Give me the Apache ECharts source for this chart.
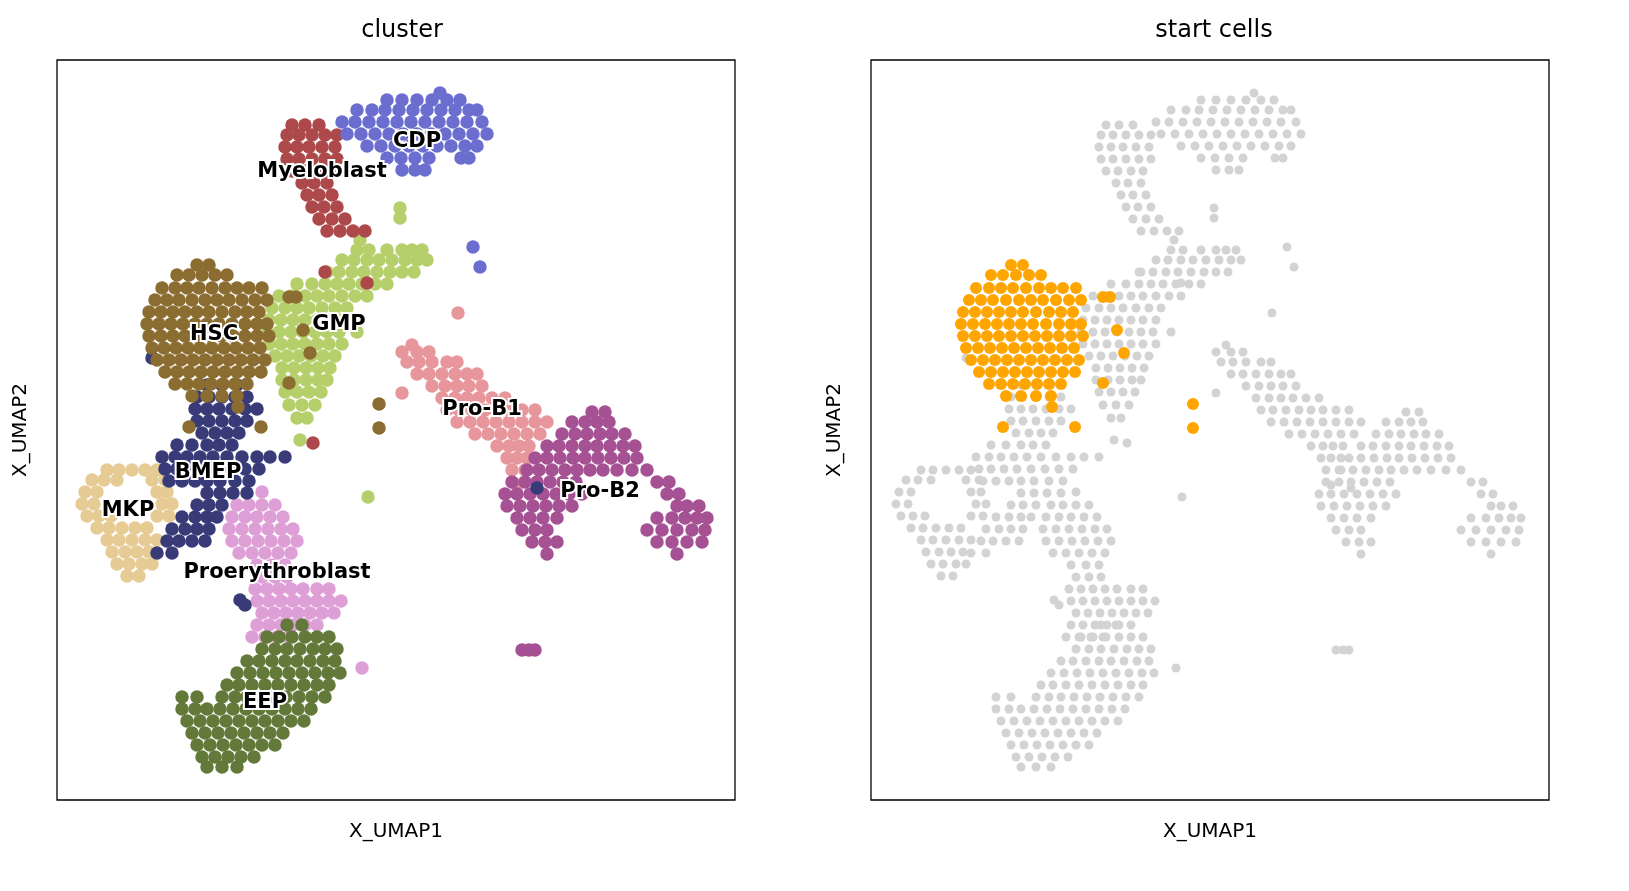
<!DOCTYPE html>
<html><head><meta charset="utf-8">
<script src="https://cdn.jsdelivr.net/npm/echarts@6/dist/echarts.min.js"></script>
<style>html,body{margin:0;padding:0;background:#fff}#c{width:1629px;height:891px}</style>
</head><body><div id="c"></div>
<script>
const HSC=[[205,[140,152]],[215,[120,132,145,158,170]],[228,[105,118,130,142,155,168,180,192,205]],[240,[98,110,122,135,148,160,172,185,198,210]],[252,[92,104,116,128,140,152,165,178,190,202]],[264,[90,102,114,126,138,150,162,175,188,200,210]],[276,[92,104,116,128,140,152,164,176,188,200,212]],[288,[95,107,119,131,143,155,167,179,191,203]],[300,[100,112,124,136,148,160,172,184,196,208]],[312,[108,120,132,144,156,168,180,192,204]],[324,[118,130,142,154,166,178,190]],[336,[135,150,165,180]],[344,[322]],[368,[322]]];
const HSC_extra=[[237,[232,239]],[270,[246]],[293,[253]],[323,[232]],[367,[132,204]],[347,[181]]];
const GMP=[[148,[343]],[158,[343]],[180,[303]],[190,[300,312,330,345,355,365]],[200,[285,297,310,322,335,348,360,370]],[212,[270,282,295,307,320,333,345,357]],[224,[240,255,268,280,292,305,318,330]],[236,[222,235,248,260,272,285,298,310]],[248,[215,228,240,252,265,278,290]],[260,[212,224,236,248,260,272,285]],[272,[210,222,234,246,258,270,282,300]],[284,[212,224,236,248,260,272,285]],[296,[218,230,242,254,266,278]],[308,[225,237,249,261,273]],[320,[225,237,249,261,270]],[332,[228,240,252,264]],[345,[232,245,258]],[358,[240,250]],[380,[243]],[437,[311]]];
const MYELO=[[65,[235,248,262]],[75,[230,242,255,268,280]],[87,[228,240,252,265,278]],[99,[230,242,255,268,280]],[111,[235,247,260,272]],[123,[245,257,270]],[135,[250,262,275]],[147,[255,267,280]],[159,[262,275,288]],[171,[270,283,296,308]],[212,[268]],[223,[310]],[383,[256]]];
const CDP=[[33,[383]],[40,[330,345,360,375,390,403]],[50,[300,315,328,342,356,370,384,398,412,420]],[62,[285,298,312,326,340,354,368,382,396,410,425]],[74,[290,304,318,332,346,360,374,388,402,416,430]],[86,[310,324,338,352,366,380,394,408,420]],[98,[330,344,358,372,404,412]],[110,[345,358,368]],[187,[416]],[207,[423]]];
const PROB1=[[253,[401]],[285,[355]],[292,[345,360,372]],[302,[350,362,375,390,400]],[314,[360,372,385,398,410,420]],[326,[375,388,400,412,425]],[333,[345]],[338,[385,398,410,422,435,448]],[350,[390,402,415,428,440,452,465,478]],[362,[400,413,426,439,452,465,478,490]],[374,[418,431,444,457,470,483]],[386,[440,452,462,472]],[398,[450,460,470]],[410,[455,468]],[425,[460]]];
const PROB2=[[352,[535,548]],[362,[515,528,540,552]],[374,[505,518,530,543,555,568]],[386,[490,502,515,528,540,553,566,578]],[398,[478,490,503,516,528,541,554,567,580]],[410,[470,482,495,508,520,533,546,560,575,590]],[422,[455,468,480,493,506,519,600,612]],[434,[448,460,473,486,499,512,525,610,622]],[446,[450,463,476,489,502,515,620,630,642]],[458,[460,473,486,500,600,615,628,640,650]],[470,[465,478,490,590,605,620,635,648]],[482,[475,488,500,600,615,630,645]],[494,[490,620]],[590,[465,472,478]]];
const BMEP=[[298,[95]],[325,[150,165,180]],[337,[140,152,165,178,190]],[349,[138,150,162,175,188,200]],[361,[140,152,165,178,190]],[373,[145,158,170,182]],[385,[120,135,150,162,175]],[397,[105,118,130,143,156,170,185,200,213,228]],[409,[108,120,133,146,160,174,188,202]],[421,[112,125,138,150,163,178,192]],[428,[480]],[433,[150,163,176,190]],[445,[140,152,165]],[457,[125,138,150,160]],[469,[115,128,140,152]],[481,[110,122,135,148]],[493,[100,115]],[540,[183]],[545,[188]]];
const MKP=[[410,[50,62,75,88,100]],[420,[35,47,60,95,108]],[432,[28,40,100,110]],[444,[25,37,105,115]],[456,[30,42,54,100,112]],[468,[40,52,65,78,90]],[480,[50,62,75,88,100]],[492,[55,68,80,92]],[504,[60,72,85,95]],[516,[70,82]]];
const PROERY=[[432,[205]],[445,[180,192,205,218]],[457,[175,188,200,213,226]],[469,[172,185,198,211,224,236]],[481,[175,188,201,214,227,240]],[493,[182,195,208,221,234]],[505,[200,215,228]],[517,[205,218,230]],[529,[198,210,222,234,246,260,272]],[541,[200,212,224,236,248,260,272,284]],[553,[205,217,229,241,253,265,277]],[565,[200,212,224,236,248,260]],[577,[195,208,220,232]],[608,[305]]];
const EEP=[[565,[230,245]],[577,[210,222,235,248,260,272]],[589,[205,218,230,243,256,268,280]],[601,[190,202,215,228,240,253,266,278]],[613,[180,193,206,219,232,245,258,271,283]],[625,[170,182,195,208,221,234,247,260,272]],[637,[125,140,165,178,190,203,216,229,242,255,268]],[649,[125,138,150,163,176,189,202,215,228,241,254]],[661,[130,143,156,169,182,195,208,221,234,247]],[673,[135,148,161,174,187,200,213,226]],[685,[140,153,166,179,192,205,218]],[697,[145,158,171,184,197]],[707,[150,165,180]]];
const clusterNames=['HSC','GMP','Myeloblast','CDP','Pro-B1','Pro-B2','BMEP','MKP','Proerythroblast','EEP'];
const clusterColors=['#8c6d31','#b5cf6b','#ad494a','#6b6ecf','#e7969c','#a55194','#393b79','#e7cb94','#de9ed6','#637939'];
const clusterRows=[HSC.concat(HSC_extra),GMP,MYELO,CDP,PROB1,PROB2,BMEP,MKP,PROERY,EEP];
const labelPos=[[157,275],[282,265],[265,112],[360,82],[425,350],[543,432],[151,413],[71,451],[220,513],[208,643]];

function expand(rows){const o=[];rows.forEach(r=>r[1].forEach(x=>o.push([x,r[0]])));return o;}
const pts=clusterRows.map(expand);
const series=[];
const order=[1,2,3,4,5,7,8,9,6,0];
order.forEach(i=>series.push({type:'scatter',xAxisIndex:0,yAxisIndex:0,data:pts[i],symbolSize:13.5,itemStyle:{color:clusterColors[i],opacity:1},silent:true}));
const allPts=[].concat(...pts.filter((_,i)=>i!==0));
series.push({type:'scatter',xAxisIndex:1,yAxisIndex:1,data:allPts,symbolSize:9,itemStyle:{color:'#d3d3d3',opacity:1},silent:true});
series.push({type:'scatter',xAxisIndex:1,yAxisIndex:1,data:pts[0],symbolSize:12,itemStyle:{color:'#ffa500',opacity:1},silent:true});

const ax=(name,gi,isY)=>({type:'value',gridIndex:gi,min:0,max:isY?740:678,inverse:!!isY,name:name,nameLocation:'middle',nameGap:isY?26:22,
 nameTextStyle:{fontFamily:'DejaVu Sans',fontSize:20,color:'#000'},axisLine:{show:false},axisTick:{show:false},axisLabel:{show:false},splitLine:{show:false}});
const chart=echarts.init(document.getElementById('c'));
chart.setOption({animation:false,backgroundColor:'#fff',
 title:[{text:'cluster',left:397,top:14,textAlign:'center',textStyle:{fontFamily:'DejaVu Sans',fontSize:24,fontWeight:'normal',color:'#000'}},
        {text:'start cells',left:1209,top:14,textAlign:'center',textStyle:{fontFamily:'DejaVu Sans',fontSize:24,fontWeight:'normal',color:'#000'}}],
 grid:[{left:57,top:60,width:678,height:740,show:true,borderColor:'#000',borderWidth:1.3,backgroundColor:'transparent'},
       {left:871,top:60,width:678,height:740,show:true,borderColor:'#000',borderWidth:1.3,backgroundColor:'transparent'}],
 xAxis:[ax('X_UMAP1',0,false),ax('X_UMAP1',1,false)],
 yAxis:[ax('X_UMAP2',0,true),ax('X_UMAP2',1,true)],
 series:series});
const graphics=labelPos.map((p,i)=>{const px=chart.convertToPixel({xAxisIndex:0,yAxisIndex:0},p);
 return {type:'text',x:px[0],y:px[1],z:100,style:{text:clusterNames[i],fill:'#000000',stroke:'#ffffff',lineWidth:4,
  font:'bold 21px "DejaVu Sans"',align:'center',verticalAlign:'middle'}};});
chart.setOption({graphic:graphics});
</script></body></html>
